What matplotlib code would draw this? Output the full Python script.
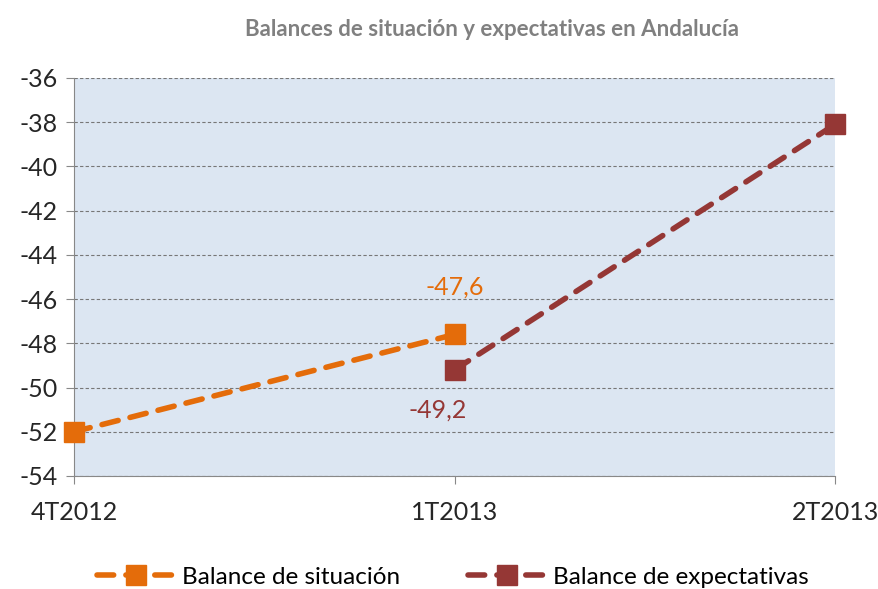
import matplotlib.pyplot as plt

plt.rcParams['font.family'] = ['Lato', 'DejaVu Sans']

categorias = ['4T2012', '1T2013', '2T2013']
situacion = [-52.0, -47.6]
expectativas = [-49.2, -38.1]
yticks = list(range(-54, -35, 2))

naranja = '#E46C0A'
granate = '#953735'

fig = plt.figure(figsize=(8.79, 5.89), dpi=100)
ax = fig.add_axes([0.0842, 0.1919, 0.8658, 0.6757])
ax.set_facecolor('#DCE6F2')

ax.plot([0, 1], situacion, color=naranja, lw=4, ls=(0, (3, 2.2)),
        dash_capstyle='round', marker='s', ms=14, mec=naranja,
        label='Balance de situación', zorder=3, clip_on=False)
ax.plot([1, 2], expectativas, color=granate, lw=4, ls=(0, (3, 2.2)),
        dash_capstyle='round', marker='s', ms=14, mec=granate,
        label='Balance de expectativas', zorder=3, clip_on=False)

ax.annotate('-47,6', (1, situacion[1]), xytext=(0, 34), textcoords='offset points',
            ha='center', va='center', color=naranja, fontsize=18)
ax.annotate('-49,2', (1, expectativas[0]), xytext=(-12, -29), textcoords='offset points',
            ha='center', va='center', color=granate, fontsize=18)

ax.set_xlim(0, 2)
ax.set_ylim(-54, -36)
ax.set_xticks(range(len(categorias)))
ax.set_xticklabels(categorias)
ax.set_yticks(yticks)
ax.set_yticklabels([str(v) for v in yticks])
ax.tick_params(axis='both', labelsize=18, colors='#262626', length=6, color='#888888')
ax.tick_params(axis='x', pad=12)
ax.tick_params(axis='y', pad=6)

ax.grid(axis='y', color='#777777', ls=(0, (3, 2)), lw=0.8)
ax.set_axisbelow(True)
for s in ['top', 'right']:
    ax.spines[s].set_visible(False)
ax.spines['left'].set_color('#888888')
ax.spines['bottom'].set_color('#888888')

fig.suptitle('Balances de situación y expectativas en Andalucía', x=0.56, y=0.967,
             fontsize=16, fontweight='bold', color='#808080')
fig.legend(loc='lower center', bbox_to_anchor=(0.515, -0.035), ncol=2, frameon=False,
           fontsize=17.5, handlelength=3.2, columnspacing=2.8, handletextpad=0.3)

plt.savefig('out.png', dpi=100)
